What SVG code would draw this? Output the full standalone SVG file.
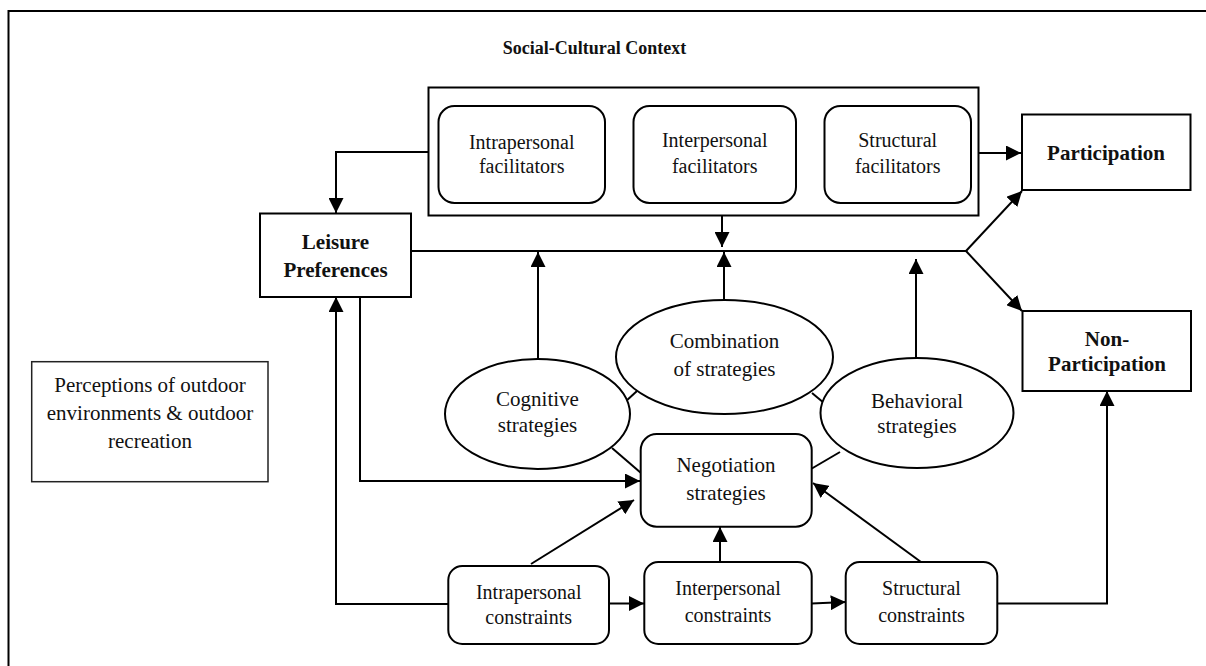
<svg xmlns="http://www.w3.org/2000/svg" width="1206" height="666" viewBox="0 0 1206 666">
<defs>
<marker id="ah" markerUnits="userSpaceOnUse" markerWidth="15" markerHeight="15" refX="15" refY="7.5" orient="auto">
<path d="M0,0 L15,7.5 L0,15 z" fill="#000"/>
</marker>
<style>
.box{fill:#fff;stroke:#000;stroke-width:2}
.ln{fill:none;stroke:#000;stroke-width:2}
.ar{fill:none;stroke:#000;stroke-width:2;marker-end:url(#ah)}
.t{font-family:"Liberation Serif","Times New Roman",serif;font-size:20px;fill:#111;text-anchor:middle}
.tl{font-family:"Liberation Serif","Times New Roman",serif;font-size:21px;fill:#111;text-anchor:middle}
.b{font-family:"Liberation Serif","Times New Roman",serif;font-size:21px;font-weight:bold;fill:#111;text-anchor:middle}
</style>
</defs>
<rect x="0" y="0" width="1206" height="666" fill="#fff"/>
<path d="M8.5,670 L8.5,11 L1210,11" class="ln"/>
<text x="502.7" y="54.3" style="font-family:'Liberation Serif','Times New Roman',serif;font-size:18px;font-weight:bold;fill:#111">Social-Cultural Context</text>

<g id="connectors">
<line x1="605" y1="153" x2="633" y2="153" class="ar"/>
<line x1="796" y1="153" x2="824" y2="153" class="ar"/>
<line x1="979" y1="153" x2="1021" y2="153" class="ar"/>
<path d="M429,152 L336,152 L336,213" class="ar"/>
<line x1="722" y1="216" x2="722" y2="247" class="ar"/>
<path d="M411,251 L966,251" class="ln"/>
<line x1="966" y1="251" x2="1022" y2="191" class="ar"/>
<line x1="966" y1="251" x2="1022" y2="311" class="ar"/>
<line x1="538" y1="359" x2="538" y2="252" class="ar"/>
<line x1="724" y1="300" x2="724" y2="252" class="ar"/>
<line x1="916" y1="358" x2="916" y2="259" class="ar"/>
<line x1="625" y1="402" x2="637" y2="391" class="ln"/>
<line x1="812" y1="393" x2="824" y2="403" class="ln"/>
<line x1="612" y1="448" x2="641" y2="473" class="ln"/>
<line x1="840" y1="452" x2="811" y2="469" class="ln"/>
<path d="M360,297 L360,481 L640,481" class="ar"/>
<path d="M448,604 L336,604 L336,297" class="ar"/>
<line x1="609" y1="603.5" x2="644" y2="603.5" class="ar"/>
<line x1="811.7" y1="603.5" x2="845.7" y2="602" class="ar"/>
<path d="M997,603.5 L1107,603.5 L1107,391" class="ar"/>
<line x1="531" y1="564" x2="634" y2="500" class="ar"/>
<line x1="720" y1="562" x2="720" y2="527" class="ar"/>
<line x1="921" y1="562" x2="813" y2="483" class="ar"/>
</g>

<g id="facilitators-frame"><rect x="428.5" y="87.5" width="550" height="128" class="box"/></g>
<g id="intrapersonal-facilitators"><rect x="438.5" y="106" width="166.5" height="97" rx="16" class="box"/>
<text class="t" x="521.7" y="149">Intrapersonal</text><text class="t" x="521.7" y="173">facilitators</text></g>
<g id="interpersonal-facilitators"><rect x="633.5" y="106" width="162.5" height="97" rx="16" class="box"/>
<text class="t" x="714.7" y="147">Interpersonal</text><text class="t" x="714.7" y="173">facilitators</text></g>
<g id="structural-facilitators"><rect x="824.5" y="106" width="146.5" height="97" rx="16" class="box"/>
<text class="t" x="897.7" y="147">Structural</text><text class="t" x="897.7" y="173">facilitators</text></g>

<g id="participation"><rect x="1022" y="114.5" width="168.5" height="75.5" class="box"/>
<text class="b" x="1106" y="160">Participation</text></g>
<g id="non-participation"><rect x="1022.5" y="311" width="168.5" height="80" class="box"/>
<text class="b" x="1107" y="346">Non-</text><text class="b" x="1107" y="371">Participation</text></g>
<g id="leisure-preferences"><rect x="260" y="213.5" width="151" height="83.5" class="box"/>
<text class="b" x="335.5" y="248.5">Leisure</text><text class="b" x="335.5" y="276.7">Preferences</text></g>

<g id="perceptions"><rect x="31.7" y="361.7" width="236.3" height="120" fill="#fff" stroke="#222" stroke-width="1.5"/>
<text class="tl" x="150" y="392">Perceptions of outdoor</text><text class="tl" x="150" y="420">environments &amp; outdoor</text><text class="tl" x="150" y="448">recreation</text></g>

<g id="combination-strategies"><ellipse cx="724.5" cy="357" rx="108.5" ry="57" class="box"/>
<text class="tl" x="724.5" y="348.3">Combination</text><text class="tl" x="724.5" y="375.7">of strategies</text></g>
<g id="cognitive-strategies"><ellipse cx="537.5" cy="414" rx="92.5" ry="55" class="box"/>
<text class="tl" x="537.5" y="406">Cognitive</text><text class="tl" x="537.5" y="431.7">strategies</text></g>
<g id="behavioral-strategies"><ellipse cx="917" cy="413" rx="96.5" ry="55" class="box"/>
<text class="tl" x="917" y="407.7">Behavioral</text><text class="tl" x="917" y="432.7">strategies</text></g>

<g id="negotiation-strategies"><rect x="640.7" y="434" width="171" height="92.7" rx="16" class="box"/>
<text class="tl" x="726" y="471.7">Negotiation</text><text class="tl" x="726" y="500">strategies</text></g>

<g id="intrapersonal-constraints"><rect x="448.3" y="566" width="160.7" height="78" rx="14" class="box"/>
<text class="t" x="528.7" y="599.3">Intrapersonal</text><text class="t" x="528.7" y="624.3">constraints</text></g>
<g id="interpersonal-constraints"><rect x="644.3" y="562" width="167.4" height="82" rx="14" class="box"/>
<text class="t" x="728" y="595">Interpersonal</text><text class="t" x="728" y="621.7">constraints</text></g>
<g id="structural-constraints"><rect x="845.7" y="562" width="151.6" height="82" rx="14" class="box"/>
<text class="t" x="921.5" y="595">Structural</text><text class="t" x="921.5" y="621.7">constraints</text></g>
</svg>
